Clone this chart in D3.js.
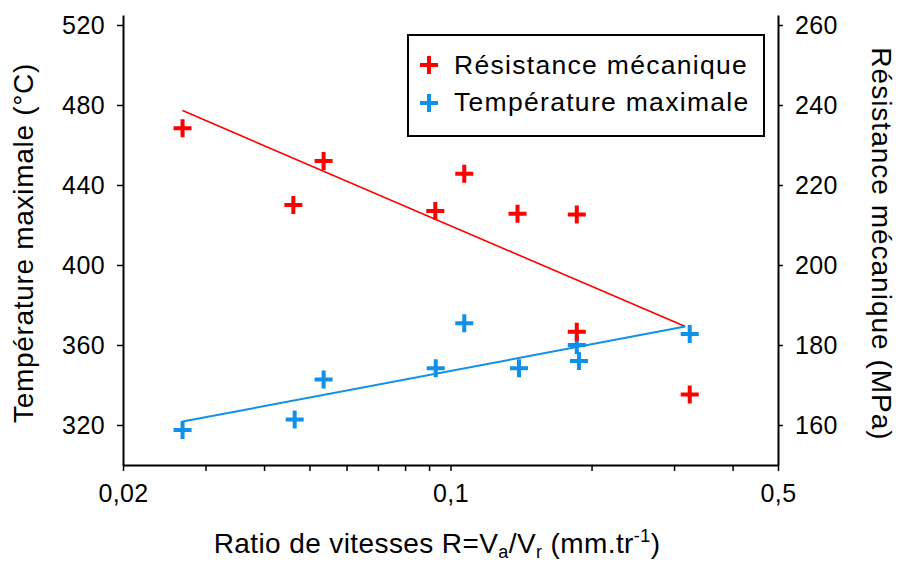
<!DOCTYPE html>
<html><head><meta charset="utf-8">
<script src="https://cdn.jsdelivr.net/npm/d3@7/dist/d3.min.js"></script>
<style>body{margin:0;background:#fff}svg{display:block}text{font-family:"Liberation Sans",Arial,sans-serif;fill:#000}</style>
</head><body>
<svg id="c" width="903" height="562"></svg>
<script>
// Data
const ratioR = [0.0268, 0.0462, 0.0536, 0.0928, 0.107, 0.139, 0.186, 0.186, 0.324];
const resistance = [234.2, 215.0, 226.0, 213.5, 222.8, 212.8, 212.6, 183.3, 167.6];
const ratioT = [0.0268, 0.0465, 0.0536, 0.0930, 0.107, 0.140, 0.186, 0.188, 0.324];
const temperature = [317.5, 322.7, 342.7, 348.4, 370.9, 348.4, 360.0, 352.0, 365.5];
const trendX = [0.0268, 0.317];
const trendResistance = [238.6, 184.6];
const trendTemperature = [321.7, 369.2];
const xTicks = [0.02, 0.1, 0.5];
const xTickLabels = ["0,02", "0,1", "0,5"];
const xMinorTicks = [0.03, 0.04, 0.05, 0.06, 0.07, 0.08, 0.09, 0.2, 0.3, 0.4];
const leftTicks = [320, 360, 400, 440, 480, 520];
const rightTicks = [160, 180, 200, 220, 240, 260];
const seriesNames = ["Résistance mécanique", "Température maximale"];

const RED = "#ff0000", BLUE = "#1090e8";
const svg = d3.select("#c");
const L = 123, R = 778, T = 15, B = 465;
const x = d3.scaleLog().domain([0.02, 0.5]).range([L, R]);
const yL = d3.scaleLinear().domain([300, 525]).range([B, T]);
const yR = d3.scaleLinear().domain([150, 262.5]).range([B, T]);

const fs = 25;
// axes
svg.append("g").attr("transform", `translate(0,${B})`)
  .call(d3.axisBottom(x).tickValues(xTicks).tickFormat((d,i)=>xTickLabels[i]).tickSize(6).tickSizeOuter(0).tickPadding(13));
const gxm = svg.append("g").attr("transform", `translate(0,${B})`)
  .call(d3.axisBottom(x).tickValues(xMinorTicks).tickFormat("").tickSize(6).tickSizeOuter(0));
gxm.select(".domain").remove();
svg.append("g").attr("transform", `translate(${L},0)`)
  .call(d3.axisLeft(yL).tickValues(leftTicks).tickSize(6).tickSizeOuter(0).tickPadding(12));
svg.append("g").attr("transform", `translate(${R},0)`)
  .call(d3.axisRight(yR).tickValues(rightTicks).tickSize(5).tickSizeOuter(0).tickPadding(12));
svg.selectAll(".domain").attr("stroke", "#000").attr("stroke-width", 2);
svg.selectAll(".tick line").attr("stroke", "#000").attr("stroke-width", 1.5);
svg.selectAll(".tick text").attr("font-size", fs).attr("letter-spacing", "0.4px")
  .attr("font-family", '"Liberation Sans",Arial,sans-serif').attr("fill", "#000");

// titles
svg.append("text").attr("transform", `translate(33,${(T+B)/2 + 3}) rotate(-90)`)
  .attr("text-anchor", "middle").attr("font-size", 28).attr("letter-spacing", "0.7px").text("Température maximale (°C)");
svg.append("text").attr("transform", `translate(872,${(T+B)/2 + 4}) rotate(90)`)
  .attr("text-anchor", "middle").attr("font-size", 28).attr("letter-spacing", "1px").text("Résistance mécanique (MPa)");
const xt = svg.append("text").attr("x", 437).attr("y", 553).attr("text-anchor", "middle")
  .attr("font-size", 28).attr("letter-spacing", "0.4px");
xt.append("tspan").text("Ratio de vitesses R=V");
xt.append("tspan").attr("font-size", 18).attr("dy", 5).text("a");
xt.append("tspan").attr("dy", -5).text("/V");
xt.append("tspan").attr("font-size", 18).attr("dy", 5).text("r");
xt.append("tspan").attr("dy", -5).text(" (mm.tr");
xt.append("tspan").attr("font-size", 18).attr("dy", -11).text("-1");
xt.append("tspan").attr("dy", 11).text(")");

// trend lines
const line = (ys, yscale) => d3.line().x((d,i)=>x(trendX[i])).y((d)=>yscale(d))(ys);
svg.append("path").attr("d", line(trendResistance, yR)).attr("stroke", RED).attr("stroke-width", 1.6).attr("fill", "none");
svg.append("path").attr("d", line(trendTemperature, yL)).attr("stroke", BLUE).attr("stroke-width", 2).attr("fill", "none");

// markers
const plus = (g, cx, cy, color) => {
  g.append("path").attr("d", `M${cx-9},${cy}H${cx+9}M${cx},${cy-9}V${cy+9}`)
   .attr("stroke", color).attr("stroke-width", 4).attr("fill", "none");
};
const gm = svg.append("g");
ratioT.forEach((r,i)=>plus(gm, x(r), yL(temperature[i]), BLUE));
ratioR.forEach((r,i)=>plus(gm, x(r), yR(resistance[i]), RED));

// legend
svg.append("rect").attr("x", 408).attr("y", 35).attr("width", 356).attr("height", 101)
  .attr("fill", "#fff").attr("stroke", "#000").attr("stroke-width", 2);
[RED, BLUE].forEach((c,i)=>{
  plus(svg, 429, 65 + i*38, c);
  svg.append("text").attr("x", 454).attr("y", 74 + i*37).attr("font-size", 26.5)
    .attr("letter-spacing", "1.3px").text(seriesNames[i]);
});
</script>
</body></html>
